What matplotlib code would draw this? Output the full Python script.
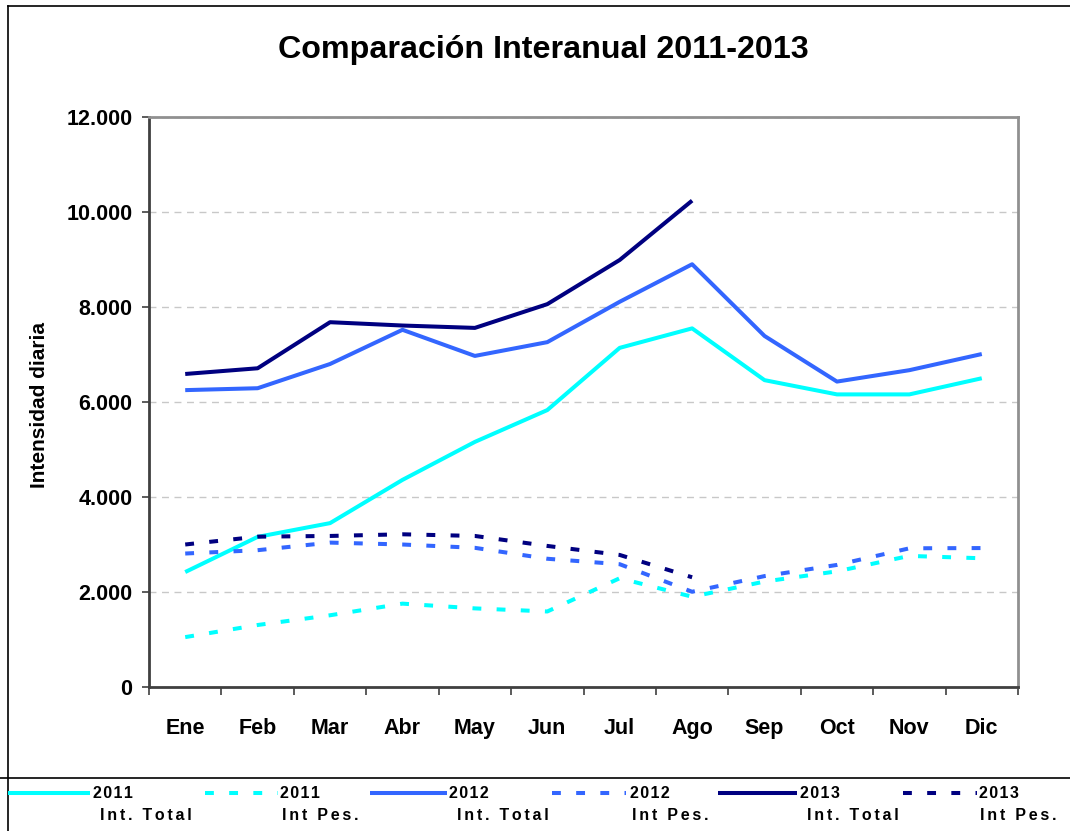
"""Comparacion interanual 2011-2013 - line chart"""

import matplotlib
matplotlib.use("Agg")
import matplotlib.pyplot as plt
from matplotlib.lines import Line2D
from matplotlib.ticker import FuncFormatter, MultipleLocator

plt.rcParams["font.family"] = ["Liberation Sans", "DejaVu Sans"]
plt.rcParams["font.weight"] = "bold"

months = ["Ene", "Feb", "Mar", "Abr", "May", "Jun", "Jul", "Ago", "Sep", "Oct", "Nov", "Dic"]

total_2011 = [2420, 3160, 3450, 4360, 5160, 5830, 7140, 7550, 6460, 6160, 6160, 6500]
pes_2011 = [1050, 1305, 1510, 1755, 1655, 1590, 2290, 1900, 2220, 2435, 2760, 2710]
total_2012 = [6250, 6290, 6800, 7520, 6970, 7260, 8110, 8900, 7390, 6430, 6670, 7010]
pes_2012 = [2810, 2880, 3040, 3000, 2930, 2700, 2585, 2005, 2335, 2570, 2920, 2925]
total_2013 = [6590, 6710, 7680, 7610, 7560, 8060, 8990, 10240]
pes_2013 = [3000, 3165, 3180, 3215, 3180, 2970, 2780, 2310]

series = [
    ("2011", "Int. Total", total_2011, "#00FFFF", "solid"),
    ("2011", "Int Pes.", pes_2011, "#00FFFF", "dash"),
    ("2012", "Int. Total", total_2012, "#3366FF", "solid"),
    ("2012", "Int Pes.", pes_2012, "#3366FF", "dash"),
    ("2013", "Int. Total", total_2013, "#000080", "solid"),
    ("2013", "Int Pes.", pes_2013, "#000080", "dash"),
]

# legend layout in pixels: handle start/end, first text line x, second text line x
leg_handle = [(8, 90), (205, 278), (370, 447), (552, 626), (718, 797), (903, 977)]
leg_text1 = [93, 280, 449, 630, 800, 979]
leg_text2 = [100, 282, 457, 632, 807, 980]

W, H = 1070, 831
fig = plt.figure(figsize=(W / 100, H / 100), dpi=100)
ax = fig.add_axes([149 / W, 1 - 687 / H, (1018 - 149) / W, (687 - 117) / H])

LW = 2.9


def style(kind):
    if kind == "solid":
        return dict(linestyle="-", linewidth=LW, solid_capstyle="butt")
    return dict(linestyle=(0, (2.2, 3.8)), linewidth=LW, dash_capstyle="butt")


for year, lab, vals, color, kind in series:
    ax.plot(range(len(vals)), vals, color=color, zorder=3, **style(kind))

ax.set_xlim(-0.5, len(months) - 0.5)
ax.set_ylim(0, 12000)
ax.yaxis.set_major_locator(MultipleLocator(2000))
ax.yaxis.set_major_formatter(FuncFormatter(lambda v, p: f"{int(v):,}".replace(",", ".")))
ax.grid(axis="y", color="#C8C8C8", linestyle=(0, (5, 4)), linewidth=1.0, zorder=1)

ax.set_xticks(range(len(months)))
ax.set_xticklabels(months)
ax.set_xticks([i - 0.5 for i in range(len(months) + 1)], minor=True)
ax.tick_params(axis="x", which="major", length=0, pad=22, labelsize=15.5)
ax.tick_params(axis="x", which="minor", length=6, width=1.2, color="#404040", direction="out")
ax.tick_params(axis="y", length=5, width=1.2, color="#404040", pad=7, labelsize=15.5)
for lbl in ax.get_xticklabels() + ax.get_yticklabels():
    lbl.set_fontweight("bold")

for side in ["left", "bottom"]:
    ax.spines[side].set_color("#404040")
    ax.spines[side].set_linewidth(2)
for side in ["top", "right"]:
    ax.spines[side].set_color("#909090")
    ax.spines[side].set_linewidth(2)

fig.text(543 / W, 1 - 50 / H, "Comparación Interanual 2011-2013",
         ha="center", va="center", fontsize=23.2, fontweight="bold")
fig.text(40 / W, 1 - 405 / H, "Intensidad diaria", rotation=90,
         ha="center", va="center", fontsize=15, fontweight="bold")

# outer frame and legend separator
fig.add_artist(Line2D([8 / W, 8 / W], [0, 1 - 6 / H], color="black", lw=1.2))
fig.add_artist(Line2D([8 / W, 1], [1 - 6 / H, 1 - 6 / H], color="black", lw=1.2))
fig.add_artist(Line2D([0, 1], [1 - 778 / H, 1 - 778 / H], color="black", lw=1.2))


def spaced(s, sep):
    return sep.join(s)


# legend along the bottom
y1 = 1 - 793 / H
y2 = 1 - 815 / H
for i, (year, lab, vals, color, kind) in enumerate(series):
    hx0, hx1 = leg_handle[i]
    fig.add_artist(Line2D([hx0 / W, hx1 / W], [y1, y1], color=color, **style(kind)))
    fig.text(leg_text1[i] / W, y1, spaced(year, "\u200a"), ha="left", va="center",
             fontsize=11.5, fontweight="bold")
    fig.text(leg_text2[i] / W, y2, spaced(lab, "\u200a\u200a"), ha="left", va="center",
             fontsize=11.5, fontweight="bold")

fig.savefig("out.png", dpi=100)
